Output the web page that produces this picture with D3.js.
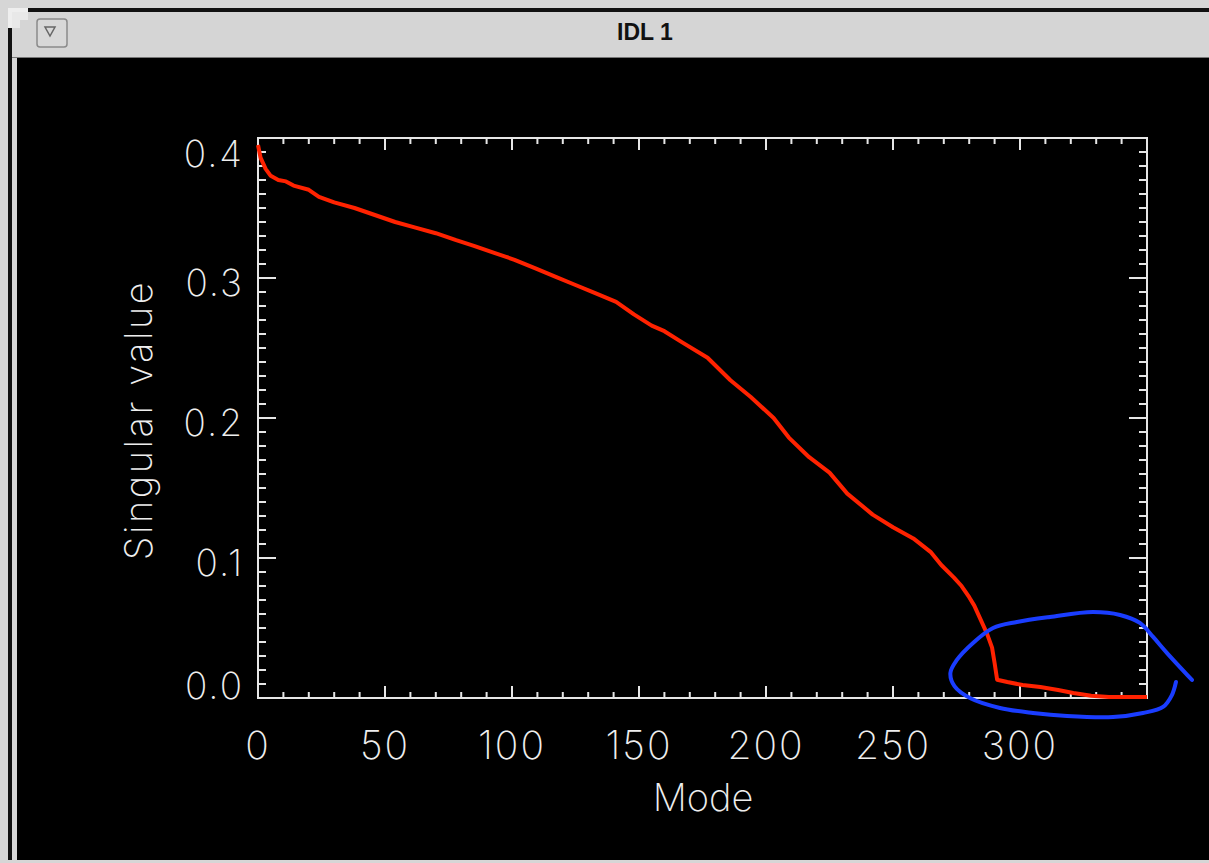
<!DOCTYPE html>
<html>
<head>
    <title>IDL 1</title>
    <script src="https://d3js.org/d3.v7.min.js"></script>
    <style>
        body { margin: 0; background: #d6d6d6; }
        svg { display: block; }
        .num { font-family: Inter, "DejaVu Sans", sans-serif; font-weight: 200; fill: #eeeeee; }
    </style>
</head>
<body>
    <div id="chart"></div>
    <script>
        // singular value spectrum
        const modes = [0, 1, 3, 5, 8, 11, 14, 20, 24, 30, 38, 46, 54, 62, 70, 78, 85, 93, 101, 109, 117, 125, 133, 141, 148, 155, 160, 167, 177, 186, 194, 203, 209, 217, 225, 232, 242, 250, 258, 265, 269, 274, 277, 280, 282, 285, 287, 289, 290, 291, 295, 301, 308, 315, 321, 328, 335, 350];
        const singularValues = [0.395, 0.386, 0.378, 0.373, 0.370, 0.369, 0.366, 0.363, 0.358, 0.354, 0.350, 0.345, 0.340, 0.336, 0.332, 0.327, 0.323, 0.318, 0.313, 0.307, 0.301, 0.295, 0.289, 0.283, 0.274, 0.266, 0.262, 0.254, 0.243, 0.227, 0.215, 0.200, 0.186, 0.172, 0.161, 0.146, 0.131, 0.122, 0.114, 0.104, 0.095, 0.086, 0.080, 0.072, 0.066, 0.054, 0.046, 0.036, 0.025, 0.013, 0.0114, 0.0093, 0.0079, 0.0057, 0.0036, 0.0016, 0.0008, 0.0007];

        // hand drawn loop around the tail (mode, value)
        const loopModes = [361.4, 359.8, 356.3, 348.4, 336.6, 318.5, 305.1, 292.1, 280.5, 274.2, 272.6, 275.0, 281.5, 289.4, 298.8, 311.8, 328.7, 339.4, 347.2, 352.4, 357.9, 367.7];
        const loopValues = [0.0114, 0.0021, -0.0064, -0.0107, -0.0136, -0.0129, -0.0107, -0.0071, -0.0002, 0.0085, 0.0180, 0.0268, 0.0393, 0.05, 0.0543, 0.0579, 0.0614, 0.0593, 0.0536, 0.0436, 0.0321, 0.0129];

        const xTicks = [0, 50, 100, 150, 200, 250, 300];
        const yTicks = [0.0, 0.1, 0.2, 0.3, 0.4];

        const W = 1209, H = 863;
        const plot = {left: 258, right: 1147, top: 138, bottom: 698};

        const svg = d3.select("#chart").append("svg")
            .attr("width", W)
            .attr("height", H);

        // window chrome
        svg.append("rect").attr("x", 0).attr("y", 0).attr("width", W).attr("height", H).attr("fill", "#d6d6d6");
        svg.append("rect").attr("x", 8).attr("y", 8).attr("width", W).attr("height", 855).attr("fill", "#111");
        svg.append("path")
            .attr("d", "M8,8 L28,8 L28,12 L18,12 L18,18 L12,18 L12,28 L8,28 Z")
            .attr("fill", "#eeeeee");
        svg.append("rect").attr("x", 12).attr("y", 12).attr("width", W).attr("height", 45).attr("fill", "#d5d5d5");
        svg.append("path").attr("d", "M12,12 L28,12 L28,20 L20,20 L20,28 L12,28 Z").attr("fill", "#e8e8e8");
        svg.append("line").attr("x1", 12).attr("x2", W).attr("y1", 57.5).attr("y2", 57.5).attr("stroke", "#777");
        svg.append("rect").attr("x", 12).attr("y", 58).attr("width", 5).attr("height", 802).attr("fill", "#d6d6d6");
        svg.append("rect").attr("x", 17).attr("y", 58).attr("width", W).attr("height", 802).attr("fill", "#000");
        svg.append("rect").attr("x", 8).attr("y", 860).attr("width", W).attr("height", 3).attr("fill", "#d6d6d6");

        svg.append("rect")
            .attr("x", 37).attr("y", 19).attr("width", 30).attr("height", 28).attr("rx", 3)
            .attr("fill", "#d8d8d8").attr("stroke", "#8a8a8a").attr("stroke-width", 1.5);
        svg.append("path").attr("d", "M45,27 L55,27 L50,36 Z").attr("fill", "none").attr("stroke", "#666").attr("stroke-width", 1.5);

        svg.append("text")
            .attr("x", 645).attr("y", 40)
            .attr("text-anchor", "middle")
            .style("font-family", "'Liberation Sans Narrow', 'Liberation Sans', sans-serif")
            .style("font-weight", "bold")
            .style("font-size", "23px")
            .style("fill", "#111")
            .text("IDL 1");

        // scales
        const x = d3.scaleLinear().domain([0, 350]).range([plot.left, plot.right]);
        const y = d3.scaleLinear().domain([0, 0.4]).range([plot.bottom, plot.top]);

        const axisColor = "#e6e6e6";
        const g = svg.append("g");

        // minor + major ticks on all four sides, pointing inward
        const xMinor = d3.range(0, 351, 10);
        const yMinor = d3.range(0, 41).map(d => d / 100);
        xMinor.forEach(v => {
            const len = v % 50 === 0 ? 12 : 6;
            g.append("line").attr("x1", x(v)).attr("x2", x(v)).attr("y1", plot.bottom).attr("y2", plot.bottom - len).attr("stroke", axisColor).attr("stroke-width", 2);
            g.append("line").attr("x1", x(v)).attr("x2", x(v)).attr("y1", plot.top).attr("y2", plot.top + len).attr("stroke", axisColor).attr("stroke-width", 2);
        });
        yMinor.forEach((v, i) => {
            const len = i % 10 === 0 ? 18 : 8;
            g.append("line").attr("x1", plot.left).attr("x2", plot.left + len).attr("y1", y(v)).attr("y2", y(v)).attr("stroke", axisColor).attr("stroke-width", 2);
            g.append("line").attr("x1", plot.right).attr("x2", plot.right - len).attr("y1", y(v)).attr("y2", y(v)).attr("stroke", axisColor).attr("stroke-width", 2);
        });
        g.append("rect")
            .attr("x", plot.left).attr("y", plot.top)
            .attr("width", plot.right - plot.left).attr("height", plot.bottom - plot.top)
            .attr("fill", "none").attr("stroke", axisColor).attr("stroke-width", 2);

        // tick labels
        g.selectAll(".xlab").data(xTicks).enter().append("text")
            .attr("class", "num")
            .attr("x", d => x(d)).attr("y", 759)
            .attr("text-anchor", "middle")
            .style("font-size", "39px")
            .style("letter-spacing", "2px")
            .text(d => d);
        g.selectAll(".ylab").data(yTicks).enter().append("text")
            .attr("class", "num")
            .attr("x", 244)
            .attr("y", d => Math.max(plot.top + 15, Math.min(plot.bottom - 13, y(d) + 4)) + 14)
            .attr("text-anchor", "end")
            .style("font-size", "37px")
            .style("letter-spacing", "2px")
            .text(d => d.toFixed(1));

        // axis titles
        svg.append("text").attr("class", "num")
            .attr("x", 703).attr("y", 811)
            .attr("text-anchor", "middle")
            .style("font-size", "38px")
            .text("Mode");
        svg.append("text").attr("class", "num")
            .attr("transform", "translate(152,420) rotate(-90)")
            .attr("text-anchor", "middle")
            .style("font-size", "38px")
            .style("letter-spacing", "2.5px")
            .text("Singular value");

        // data line
        const line = d3.line().x((d, i) => x(modes[i])).y(d => y(d));
        svg.append("path")
            .datum(singularValues)
            .attr("d", line)
            .attr("fill", "none")
            .attr("stroke", "#ff2200")
            .attr("stroke-width", 4)
            .attr("stroke-linejoin", "round");

        // annotation loop
        const loop = d3.line().curve(d3.curveCatmullRom).x((d, i) => x(loopModes[i])).y(d => y(d));
        svg.append("path")
            .datum(loopValues)
            .attr("d", loop)
            .attr("fill", "none")
            .attr("stroke", "#1a3dff")
            .attr("stroke-width", 4)
            .attr("stroke-linecap", "round");
    </script>
</body>
</html>
